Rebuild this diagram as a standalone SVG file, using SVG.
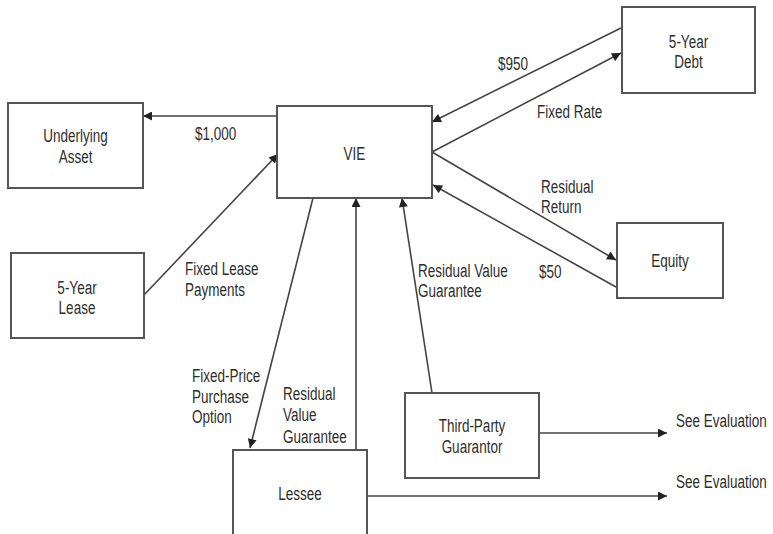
<svg xmlns="http://www.w3.org/2000/svg" width="773" height="534" viewBox="0 0 773 534">
  <style>
    .box { fill: #ffffff; stroke: #555555; stroke-width: 2; }
    .edge { fill: none; stroke: #444444; stroke-width: 1.6; }
    text { font-family: "Liberation Sans", Arial, sans-serif; font-size: 13.5px; fill: #2e2e2e; }
    .c { text-anchor: middle; }
  </style>
  <defs>
    <marker id="arrow" viewBox="0 0 10 10" refX="10" refY="5" markerWidth="11" markerHeight="9" markerUnits="userSpaceOnUse" orient="auto">
      <path d="M0,0 L10,5 L0,10 Z" fill="#222222"/>
    </marker>
  </defs>
  <rect width="773" height="534" fill="#ffffff"/>

  <!-- connectors -->
  <g id="connectors">
    <line class="edge" x1="277" y1="116" x2="143" y2="116" marker-end="url(#arrow)"/>
    <line class="edge" x1="144" y1="295" x2="278" y2="154" marker-end="url(#arrow)"/>
    <line class="edge" x1="621" y1="28" x2="432" y2="122" marker-end="url(#arrow)"/>
    <line class="edge" x1="432" y1="152" x2="621" y2="53" marker-end="url(#arrow)"/>
    <line class="edge" x1="432" y1="152" x2="616" y2="260" marker-end="url(#arrow)"/>
    <line class="edge" x1="616" y1="287" x2="433" y2="185" marker-end="url(#arrow)"/>
    <line class="edge" x1="313" y1="198" x2="250" y2="448" marker-end="url(#arrow)"/>
    <line class="edge" x1="356" y1="450" x2="356" y2="198" marker-end="url(#arrow)"/>
    <line class="edge" x1="432" y1="393" x2="402" y2="198" marker-end="url(#arrow)"/>
    <line class="edge" x1="539" y1="433" x2="667" y2="433" marker-end="url(#arrow)"/>
    <line class="edge" x1="367" y1="496" x2="667" y2="496" marker-end="url(#arrow)"/>
  </g>

  <!-- connector labels -->
  <g id="edge-labels">
    <text transform="translate(195,140) scale(1,1.33)">$1,000</text>
    <text transform="translate(498,70) scale(1,1.33)">$950</text>
    <text transform="translate(537,118) scale(1,1.33)">Fixed Rate</text>
    <text transform="translate(541,193) scale(1,1.33)"><tspan x="0">Residual</tspan><tspan x="0" dy="15">Return</tspan></text>
    <text transform="translate(539,278) scale(1,1.33)">$50</text>
    <text transform="translate(418,277) scale(1,1.33)"><tspan x="0">Residual Value</tspan><tspan x="0" dy="15">Guarantee</tspan></text>
    <text transform="translate(185,275) scale(1,1.33)"><tspan x="0">Fixed Lease</tspan><tspan x="0" dy="15.5">Payments</tspan></text>
    <text transform="translate(192,382) scale(1,1.33)"><tspan x="0">Fixed-Price</tspan><tspan x="0" dy="15.5">Purchase</tspan><tspan x="0" dy="15.5">Option</tspan></text>
    <text transform="translate(283,400) scale(1,1.33)"><tspan x="0">Residual</tspan><tspan x="0" dy="16">Value</tspan><tspan x="0" dy="16">Guarantee</tspan></text>
    <text transform="translate(676,427) scale(1,1.33)">See Evaluation</text>
    <text transform="translate(676,488) scale(1,1.33)">See Evaluation</text>
  </g>

  <!-- nodes -->
  <g id="underlying-asset">
    <rect class="box" x="8" y="103" width="135" height="85"/>
    <text class="c" transform="translate(75.5,142) scale(1,1.33)"><tspan x="0">Underlying</tspan><tspan x="0" dy="15.8">Asset</tspan></text>
  </g>
  <g id="vie">
    <rect class="box" x="277" y="106" width="155" height="92"/>
    <text class="c" transform="translate(354.5,160) scale(1,1.33)">VIE</text>
  </g>
  <g id="debt">
    <rect class="box" x="622" y="7" width="133" height="86"/>
    <text class="c" transform="translate(688.5,48) scale(1,1.33)"><tspan x="0">5-Year</tspan><tspan x="0" dy="15">Debt</tspan></text>
  </g>
  <g id="lease">
    <rect class="box" x="11" y="253" width="133" height="85"/>
    <text class="c" transform="translate(77,294) scale(1,1.33)"><tspan x="0">5-Year</tspan><tspan x="0" dy="15">Lease</tspan></text>
  </g>
  <g id="equity">
    <rect class="box" x="617" y="223" width="106" height="75"/>
    <text class="c" transform="translate(670,267) scale(1,1.33)">Equity</text>
  </g>
  <g id="guarantor">
    <rect class="box" x="405" y="393" width="134" height="85"/>
    <text class="c" transform="translate(472,432) scale(1,1.33)"><tspan x="0">Third-Party</tspan><tspan x="0" dy="15.8">Guarantor</tspan></text>
  </g>
  <g id="lessee">
    <!-- box runs past the lower edge of the canvas -->
    <rect class="box" x="233" y="450" width="134" height="95"/>
    <text class="c" transform="translate(300,500) scale(1,1.33)">Lessee</text>
  </g>
</svg>
